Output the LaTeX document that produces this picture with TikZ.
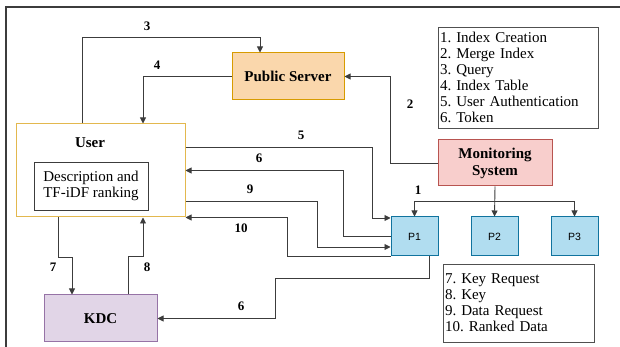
\documentclass[tikz,border=0pt]{standalone}
\usepackage{fontspec}
\setmainfont{Liberation Serif}
\setsansfont{Liberation Sans}
\usepackage{tikz}
\usetikzlibrary{arrows.meta}
\usetikzlibrary{calc}
\usetikzlibrary{positioning}
\frenchspacing

\definecolor{psfill}{HTML}{FAD7AC}
\definecolor{psline}{HTML}{D79B00}
\definecolor{monfill}{HTML}{F8CECC}
\definecolor{monline}{HTML}{B85450}
\definecolor{kdcfill}{HTML}{E1D5E7}
\definecolor{kdcline}{HTML}{9673A6}
\definecolor{procfill}{HTML}{B1DDF0}
\definecolor{procline}{HTML}{10739E}
\definecolor{userline}{HTML}{E3B84E}
\definecolor{wire}{HTML}{3C3C3C}

\begin{document}
\begin{tikzpicture}[
		x=1pt,
		y=1pt,
		font=\fontsize{15pt}{16pt}\selectfont,
		>={Triangle[length=6pt,width=6pt]},
		link/.style={->, draw=wire, line width=0.9pt},
		block/.style={draw, line width=1pt, inner sep=0, align=center,
			font=\fontsize{15pt}{17pt}\selectfont\bfseries},
		proc/.style={draw=procline, fill=procfill, line width=1pt,
			minimum width=47, minimum height=39, inner sep=0,
			font=\fontsize{10.5pt}{12pt}\selectfont\sffamily},
		legend/.style={draw=wire!90, line width=0.9pt, inner xsep=2, inner ysep=0,
			align=left},
		num/.style={font=\fontsize{13pt}{14pt}\selectfont\bfseries, inner sep=1}
	]
		\useasboundingbox (0,0) rectangle (620,347);
		\draw[wire, line width=1.2pt] (6,0) |- (620,340);

		% boxes
		\node[block, draw=psline, fill=psfill, minimum width=112, minimum height=47]
			(ps) at (288,270.5) {Public Server};
		\node[block, draw=userline, fill=white, minimum width=169, minimum height=93]
			(user) at (100.5,176.5) {};
		\node[block, draw=none] (ulbl) at (90,204) {User};
		\node[draw=wire, line width=0.9pt, minimum width=114, minimum height=48,
			inner sep=0, align=center] (desc) at (91,161) {Description and\\TF-iDF ranking};
		\node[block, draw=kdcline, fill=kdcfill, minimum width=113, minimum height=47]
			(kdc) at (100.5,28.5) {KDC};
		\node[block, draw=monline, fill=monfill, minimum width=114, minimum height=46]
			(mon) at (495,184) {Monitoring\\System};
		\node[proc] (p1) at (414.5,110.5) {P1};
		\node[proc] (p2) at (494.5,110.5) {P2};
		\node[proc] (p3) at (574.5,110.5) {P3};

		% legends
		\node[legend, minimum height=101, text width=156] (leg1) at (518,269.5)
			{1. Index Creation\\2. Merge Index\\3. Query\\4. Index Table\\5. User Authentication\\6. Token};
		\node[legend, minimum height=78, text width=147] (leg2) at (518.5,44)
			{7. Key Request\\8. Key\\9. Data Request\\10. Ranked Data};

		% connectors
		\draw[link] ([xshift=-18.5]user.north) -- ++(0,86) -| ([xshift=-28]ps.north);
		\draw[link] (ps.west) -| ([xshift=42.5]user.north);
		\draw[link] (mon.west) -| (p1.west |- ps.east) -- (ps.east);
		\coordinate (split) at ($(mon.south)!0.5!(p2.north)$);
		\draw[link] (mon.south) -- (p2.north);
		\draw[link] (split) -| (p1.north);
		\draw[link] (split) -| (p3.north);
		\draw[link] ([yshift=23.5]user.east) -- ++(187,0) |- ([yshift=18.5]p1.west);
		\draw[link] (p1.west) -- ++(-47,0) |- (user.east);
		\draw[link] ([yshift=-30.5]user.east) -- ++(132,0) |- ([yshift=-10.5]p1.west);
		\draw[link] (p1.south west) -- ++(-103,0) |- (user.south east);
		\draw[link] ([xshift=14.5]p1.south) -- ++(0,-22) -- ++(-154,0) |- (kdc.east);
		\draw[link] ([xshift=-42.5]user.south) -- ++(0,-40) -| ([xshift=-28.5]kdc.north);
		\draw[link] ([xshift=27.5]kdc.north) -- ++(0,38) -| ([xshift=42.5]user.south);

		% numbers
		\node[num] (n3) at (147,321) {3};
		\node[num] (n4) at (157,282) {4};
		\node[num] (n2) at (410,243) {2};
		\node[num] (n5) at (301,212) {5};
		\node[num] (n6) at (259,189) {6};
		\node[num] (n9) at (250,158) {9};
		\node[num] (n10) at (241,119) {10};
		\node[num] (n1) at (418,157) {1};
		\node[num] (n7) at (53,80) {7};
		\node[num] (n8) at (147,80) {8};
		\node[num] (n6k) at (241,41) {6};
	\end{tikzpicture}
\end{document}
